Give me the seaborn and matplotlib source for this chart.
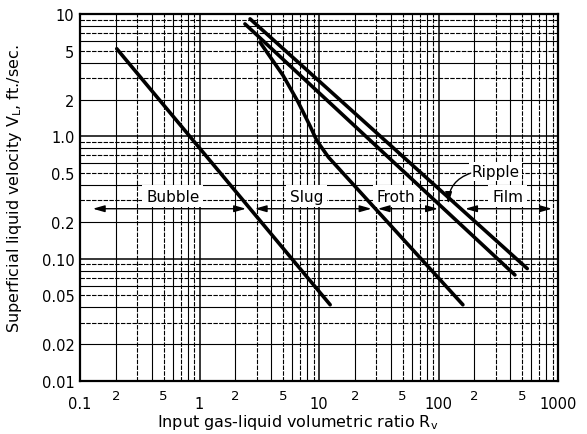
import numpy as np
import pandas as pd
import matplotlib
matplotlib.use("Agg")
import matplotlib.pyplot as plt
from matplotlib.ticker import FixedLocator, FuncFormatter, NullFormatter
import seaborn as sns

# ---------------- data ----------------
# Regime boundary lines (R_v, V_L)
bubble_x = [0.203, 12.4]
bubble_y = [5.2, 0.042]

slug_x = [3.2, 5.0, 6.7, 8.4, 9.6, 12.0, 160.0]
slug_y = [5.9, 3.15, 1.9, 1.22, 0.92, 0.675, 0.042]

ripple_lo_x = [2.40, 436.0]
ripple_lo_y = [8.3, 0.0736]

ripple_hi_x = [2.65, 553.0]
ripple_hi_y = [9.12, 0.083]

# Region labels: name, text x, text y
region_names = ["Bubble", "Slug", "Froth", "Film"]
region_text_x = [0.60, 7.9, 44.0, 380.0]
region_text_y = [0.325, 0.325, 0.325, 0.325]
# Region arrows: start x, end x (at V_L = arrow_y)
region_arrow_x0 = [0.128, 2.9, 31.0, 167.0]
region_arrow_x1 = [2.45, 27.5, 99.0, 890.0]
arrow_y = 0.256

ripple_label = "Ripple"
ripple_text_xy = (300.0, 0.515)
ripple_tip_xy = (121.0, 0.28)

x_major = [0.1, 1, 10, 100, 1000]
x_major_labels = ["0.1", "1", "10", "100", "1000"]
x_minor_labeled = [0.2, 0.5, 2, 5, 20, 50, 200, 500]
x_minor_labels = ["2", "5", "2", "5", "2", "5", "2", "5"]

y_ticks = [0.01, 0.02, 0.05, 0.10, 0.2, 0.5, 1.0, 2, 5, 10]
y_tick_labels = ["0.01", "0.02", "0.05", "0.10", "0.2", "0.5", "1.0", "2", "5", "10"]

x_label = "Input gas-liquid volumetric ratio R$_\\mathregular{v}$"
y_label = "Superficial liquid velocity V$_\\mathregular{L}$, ft./sec."

# ---------------- figure ----------------
sns.set_style("white")
plt.rcParams["font.family"] = ["DejaVu Sans"]
plt.rcParams["text.color"] = "black"
plt.rcParams["axes.labelcolor"] = "black"
plt.rcParams["xtick.color"] = "black"
plt.rcParams["ytick.color"] = "black"
fig = plt.figure(figsize=(5.87, 4.35), dpi=100)
ax = fig.add_axes([80 / 587, 1 - 382 / 435, 478 / 587, 367 / 435])
ax.set_xscale("log")
ax.set_yscale("log")
ax.set_xlim(0.1, 1000)
ax.set_ylim(0.01, 10)

# log grid
def grid_vals(lo_exp, hi_exp):
    vals = []
    for e in range(lo_exp, hi_exp):
        for m in range(1, 10):
            vals.append((m, m * 10.0 ** e))
    vals.append((1, 10.0 ** hi_exp))
    return vals

for m, v in grid_vals(-1, 3):
    if m == 1:
        ax.axvline(v, color="black", lw=1.1, zorder=1)
    elif m % 2 == 0:
        ax.axvline(v, color="black", lw=0.8, zorder=1)
    else:
        ax.axvline(v, color="black", lw=0.8, ls=(0, (4, 1.2)), zorder=1)
for m, v in grid_vals(-2, 1):
    if m == 1:
        ax.axhline(v, color="black", lw=1.1, zorder=1)
    elif m % 2 == 0:
        ax.axhline(v, color="black", lw=0.8, zorder=1)
    else:
        ax.axhline(v, color="black", lw=0.8, ls=(0, (4, 1.2)), zorder=1)

# boundary lines
for xs, ys in [(bubble_x, bubble_y), (slug_x, slug_y),
               (ripple_lo_x, ripple_lo_y), (ripple_hi_x, ripple_hi_y)]:
    df = pd.DataFrame({"x": xs, "y": ys})
    sns.lineplot(data=df, x="x", y="y", ax=ax, color="black", lw=2.6,
                 sort=False, estimator=None, zorder=4)

# region labels and arrows
for name, tx, ty, x0, x1 in zip(region_names, region_text_x, region_text_y,
                                region_arrow_x0, region_arrow_x1):
    ax.text(tx, ty, name, ha="center", va="center", fontsize=11, zorder=3,
            color="black",
            bbox=dict(boxstyle="square,pad=0.25", fc="white", ec="none"))
    ax.annotate("", xy=(x1, arrow_y), xytext=(x0, arrow_y), zorder=5,
                arrowprops=dict(arrowstyle="<|-|>,head_length=0.7,head_width=0.2",
                                color="black", lw=1.0, shrinkA=0, shrinkB=0))

ax.text(ripple_text_xy[0], ripple_text_xy[1], ripple_label, ha="center",
        va="center", fontsize=11, zorder=3, color="black",
        bbox=dict(boxstyle="square,pad=0.15", fc="white", ec="none"))
ax.annotate("", xy=ripple_tip_xy, xytext=(186.0, 0.50), zorder=5,
            arrowprops=dict(arrowstyle="-|>,head_length=0.7,head_width=0.2",
                            color="black", lw=1.0, shrinkA=0, shrinkB=0,
                            connectionstyle="arc3,rad=0.35"))

# ticks
ax.xaxis.set_major_locator(FixedLocator(x_major))
ax.set_xticklabels(x_major_labels)
ax.xaxis.set_minor_locator(FixedLocator(x_minor_labeled))
ax.xaxis.set_minor_formatter(FuncFormatter(
    lambda v, p: x_minor_labels[x_minor_labeled.index(min(x_minor_labeled, key=lambda t: abs(np.log10(t) - np.log10(v))))]))
ax.yaxis.set_major_locator(FixedLocator(y_ticks))
ax.set_yticklabels(y_tick_labels)
ax.yaxis.set_minor_formatter(NullFormatter())
ax.yaxis.set_minor_locator(FixedLocator([]))
ax.tick_params(axis="x", which="major", length=0, pad=10.5, labelsize=10.5,
               labelcolor="black")
ax.tick_params(axis="x", which="minor", length=0, pad=6, labelsize=9.5,
               labelcolor="black")
ax.tick_params(axis="y", which="major", length=0, pad=4, labelsize=10.5,
               labelcolor="black")

for s in ax.spines.values():
    s.set_color("black")
    s.set_linewidth(1.6)
    s.set_zorder(6)

ax.set_xlabel(x_label, fontsize=11.5, color="black")
ax.set_ylabel(y_label, fontsize=11.5, color="black")
ax.xaxis.set_label_coords(0.456, -0.084)
ax.yaxis.set_label_coords(-0.117, 0.528)

fig.savefig("out.png", dpi=100)
